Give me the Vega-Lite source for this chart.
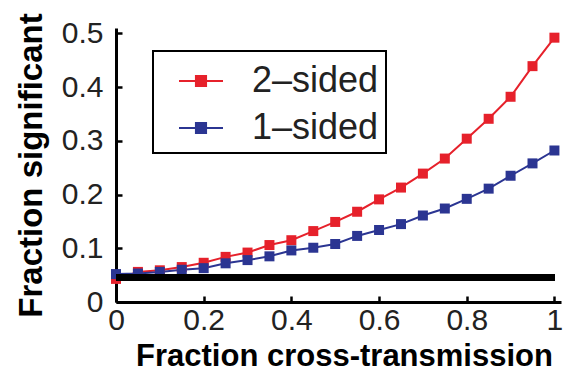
{
  "$schema": "https://vega.github.io/schema/vega-lite/v6.json",
  "width": 445,
  "height": 274,
  "autosize": {"type": "none"},
  "padding": {"left": 116, "top": 28, "right": 8, "bottom": 69},
  "background": "white",
  "config": {
    "view": {"stroke": null},
    "font": "Liberation Sans",
    "axis": {
      "grid": false,
      "domainColor": "black",
      "domainWidth": 3,
      "tickColor": "black",
      "tickWidth": 2.5,
      "tickSize": -6,
      "labelFlush": false,
      "labelOverlap": false,
      "labelFont": "Liberation Sans",
      "labelFontSize": 30,
      "labelColor": "#222222",
      "titleFont": "Liberation Sans",
      "titleFontWeight": "bold",
      "titleColor": "black"
    },
    "legend": {"strokeWidth": 2}
  },
  "data": {
    "values": [
      {"x": 0.00, "series": "2–sided", "y": 0.043},
      {"x": 0.05, "series": "2–sided", "y": 0.056},
      {"x": 0.10, "series": "2–sided", "y": 0.059},
      {"x": 0.15, "series": "2–sided", "y": 0.065},
      {"x": 0.20, "series": "2–sided", "y": 0.073},
      {"x": 0.25, "series": "2–sided", "y": 0.084},
      {"x": 0.30, "series": "2–sided", "y": 0.092},
      {"x": 0.35, "series": "2–sided", "y": 0.106},
      {"x": 0.40, "series": "2–sided", "y": 0.115},
      {"x": 0.45, "series": "2–sided", "y": 0.132},
      {"x": 0.50, "series": "2–sided", "y": 0.149},
      {"x": 0.55, "series": "2–sided", "y": 0.168},
      {"x": 0.60, "series": "2–sided", "y": 0.191},
      {"x": 0.65, "series": "2–sided", "y": 0.213},
      {"x": 0.70, "series": "2–sided", "y": 0.239},
      {"x": 0.75, "series": "2–sided", "y": 0.267},
      {"x": 0.80, "series": "2–sided", "y": 0.304},
      {"x": 0.85, "series": "2–sided", "y": 0.341},
      {"x": 0.90, "series": "2–sided", "y": 0.382},
      {"x": 0.95, "series": "2–sided", "y": 0.439},
      {"x": 1.00, "series": "2–sided", "y": 0.492},
      {"x": 0.00, "series": "1–sided", "y": 0.052},
      {"x": 0.05, "series": "1–sided", "y": 0.053},
      {"x": 0.10, "series": "1–sided", "y": 0.056},
      {"x": 0.15, "series": "1–sided", "y": 0.060},
      {"x": 0.20, "series": "1–sided", "y": 0.063},
      {"x": 0.25, "series": "1–sided", "y": 0.072},
      {"x": 0.30, "series": "1–sided", "y": 0.078},
      {"x": 0.35, "series": "1–sided", "y": 0.085},
      {"x": 0.40, "series": "1–sided", "y": 0.096},
      {"x": 0.45, "series": "1–sided", "y": 0.101},
      {"x": 0.50, "series": "1–sided", "y": 0.108},
      {"x": 0.55, "series": "1–sided", "y": 0.123},
      {"x": 0.60, "series": "1–sided", "y": 0.134},
      {"x": 0.65, "series": "1–sided", "y": 0.145},
      {"x": 0.70, "series": "1–sided", "y": 0.161},
      {"x": 0.75, "series": "1–sided", "y": 0.174},
      {"x": 0.80, "series": "1–sided", "y": 0.192},
      {"x": 0.85, "series": "1–sided", "y": 0.211},
      {"x": 0.90, "series": "1–sided", "y": 0.235},
      {"x": 0.95, "series": "1–sided", "y": 0.258},
      {"x": 1.00, "series": "1–sided", "y": 0.282}
    ]
  },
  "encoding": {
    "x": {
      "field": "x", "type": "quantitative",
      "scale": {"domain": [0, 1.015], "nice": false},
      "axis": {
        "values": [0, 0.2, 0.4, 0.6, 0.8, 1],
        "labelExpr": "'' + datum.value",
        "labelPadding": 9,
        "title": "Fraction cross-transmission",
        "titleFontSize": 31,
        "titlePadding": 6,
        "titleX": 228
      }
    },
    "y": {
      "field": "y", "type": "quantitative",
      "scale": {"domain": [0, 0.51], "nice": false},
      "axis": {
        "values": [0, 0.1, 0.2, 0.3, 0.4, 0.5],
        "labelExpr": "'' + datum.value",
        "labelPadding": 19,
        "title": "Fraction significant",
        "titleFontSize": 33,
        "titlePadding": 13
      }
    },
    "color": {
      "field": "series", "type": "nominal",
      "scale": {"domain": ["2–sided", "1–sided"], "range": ["#e6212b", "#2b3592"]},
      "legend": {
        "title": null,
        "orient": "none",
        "legendX": 37,
        "legendY": 23,
        "strokeColor": "black",
        "fillColor": "white",
        "padding": 7,
        "symbolOffset": 18,
        "symbolType": "M-1,0H1M-0.23,-0.23H0.23V0.23H-0.23Z",
        "symbolSize": 1936,
        "symbolStrokeWidth": 2,
        "labelFont": "Liberation Sans",
        "labelFontSize": 36,
        "labelColor": "#222222",
        "labelOffset": 28,
        "rowPadding": 6
      }
    }
  },
  "layer": [
    {"mark": {"type": "line", "strokeWidth": 2}},
    {"mark": {"type": "point", "shape": "square", "filled": true, "size": 100, "opacity": 1}},
    {
      "mark": {"type": "rule", "color": "black", "strokeWidth": 6},
      "encoding": {
        "y": {"datum": 0.045},
        "x": {"datum": 0},
        "x2": {"datum": 1},
        "color": null
      }
    }
  ]
}
